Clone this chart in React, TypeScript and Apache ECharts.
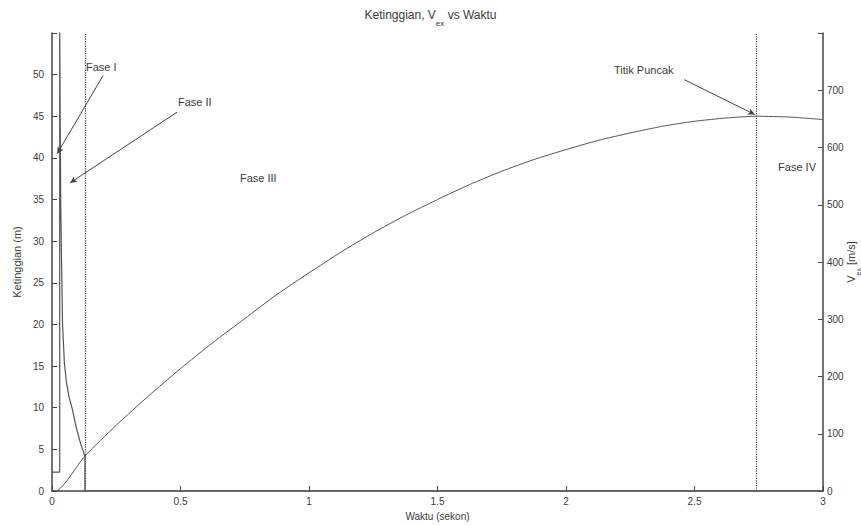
import React, { useEffect, useRef } from "react";
import * as echarts from "echarts";

// Height (Ketinggian, m) vs time (s) — left axis
const timeH = [0, 0.015, 0.128, 0.25, 0.375, 0.5, 0.625, 0.75, 0.875, 1.0, 1.125, 1.25, 1.375, 1.5, 1.625, 1.75, 1.875, 2.0, 2.125, 2.25, 2.375, 2.5, 2.625, 2.74, 2.875, 3.0];
const heightM = [0, 0, 4.2, 7.9, 11.4, 14.7, 17.8, 20.7, 23.6, 26.2, 28.7, 31.0, 33.1, 35.0, 36.8, 38.4, 39.8, 41.0, 42.1, 43.0, 43.8, 44.4, 44.8, 45.0, 44.9, 44.6];

// Exhaust velocity (V_ex, m/s) vs time (s) — right axis
const timeV = [0, 0.03, 0.03, 0.032, 0.034, 0.037, 0.041, 0.048, 0.056, 0.066, 0.078, 0.095, 0.11, 0.121, 0.128, 0.128, 3];
const vexMs = [33, 33, 820, 640, 500, 407, 291, 225, 190, 165, 145, 110, 85, 70, 60, 0, 0];

// Phase boundaries (dotted vertical lines)
const phaseBoundaries = [0.128, 2.74];

// Annotation arrows: [tailT, tailH, headT, headH] in left-axis units
const arrowFaseI = [0.199, 49.9, 0.02, 40.5];
const arrowFaseII = [0.487, 45.5, 0.07, 37.0];
const arrowPuncak = [2.46, 49.4, 2.735, 45.2];

const FONT = "'Liberation Sans', Arial, sans-serif";
const TXT = "#3c3c3c";
const LINE = "#555";

export default function App() {
  const ref = useRef<HTMLDivElement>(null);
  useEffect(() => {
    if (!ref.current) return;
    const chart = echarts.init(ref.current, undefined, { renderer: "svg" });
    const hData = timeH.map((t, i) => [t, heightM[i]]);
    const vData = timeV.map((t, i) => [t, vexMs[i]]);
    const arrow = (a: number[]) => [
      { coord: [a[0], a[1]] },
      { coord: [a[2], a[3]] },
    ];
    const axisLineStyle = { color: "#444", width: 1.5 };
    const labelStyle = { color: TXT, fontSize: 10, fontFamily: FONT };
    chart.setOption({
      animation: false,
      backgroundColor: "#ffffff",
      title: {
        text: "{a|Ketinggian, V}{b|ex}{a| vs Waktu}",
        left: "center",
        top: 4,
        textStyle: {
          fontWeight: "normal",
          rich: {
            a: { fontSize: 12, fontWeight: "normal", color: TXT, fontFamily: FONT, lineHeight: 14, verticalAlign: "top" },
            b: { fontSize: 8, fontWeight: "normal", color: TXT, fontFamily: FONT, lineHeight: 18, verticalAlign: "bottom" },
          },
        },
      },
      grid: { left: 52, right: 38, top: 33, bottom: 34, outerBoundsMode: "none", containLabel: false },
      xAxis: {
        type: "value",
        min: 0,
        max: 3,
        interval: 0.5,
        name: "Waktu (sekon)",
        nameLocation: "middle",
        nameGap: 20,
        nameMoveOverlap: false,
        nameTextStyle: { color: TXT, fontSize: 10, fontFamily: FONT },
        axisLine: { show: true, onZero: false, lineStyle: axisLineStyle },
        axisTick: { show: true, inside: true, length: 5, lineStyle: { color: "#444" } },
        axisLabel: { ...labelStyle, margin: 5 },
        splitLine: { show: false },
      },
      yAxis: [
        {
          type: "value",
          min: 0,
          max: 55,
          interval: 5,
          position: "left",
          name: "Ketinggian (m)",
          nameLocation: "middle",
          nameGap: 30,
          nameMoveOverlap: false,
          nameTextStyle: { color: TXT, fontSize: 11, fontFamily: FONT },
          axisLine: { show: true, lineStyle: axisLineStyle },
          axisTick: { show: true, inside: true, length: 5, lineStyle: { color: "#444" } },
          axisLabel: { ...labelStyle, margin: 8, formatter: (v: number) => (v === 55 ? "" : String(v)) },
          splitLine: { show: false },
        },
        {
          type: "value",
          min: 0,
          max: 800,
          interval: 100,
          position: "right",
          name: "{a|V}{b|ex}{a| [m/s]}",
          nameLocation: "middle",
          nameGap: 22,
          nameMoveOverlap: false,
          nameTextStyle: {
            rich: {
              a: { fontSize: 11, color: TXT, fontFamily: FONT, lineHeight: 13, verticalAlign: "top" },
              b: { fontSize: 7, color: TXT, fontFamily: FONT, lineHeight: 17, verticalAlign: "bottom" },
            },
          },
          axisLine: { show: true, lineStyle: axisLineStyle },
          axisTick: { show: true, inside: true, length: 5, lineStyle: { color: "#444" } },
          axisLabel: { ...labelStyle, margin: 4, formatter: (v: number) => (v === 800 ? "" : String(v)) },
          splitLine: { show: false },
        },
      ],
      series: [
        {
          name: "Ketinggian",
          type: "line",
          yAxisIndex: 0,
          data: hData,
          showSymbol: false,
          smooth: 0.2,
          lineStyle: { color: LINE, width: 1 },
          itemStyle: { color: LINE },
          markLine: {
            silent: true,
            symbol: ["none", "none"],
            label: { show: false },
            lineStyle: { color: "#444", type: "dotted", width: 1.2 },
            data: phaseBoundaries.map((t) => ({ xAxis: t })),
          },
        },
        {
          name: "Vex",
          type: "line",
          yAxisIndex: 1,
          data: vData,
          showSymbol: false,
          clip: true,
          lineStyle: { color: LINE, width: 1.2 },
          itemStyle: { color: LINE },
        },
        {
          name: "annotations",
          type: "line",
          yAxisIndex: 0,
          data: [],
          markLine: {
            silent: true,
            symbol: ["none", "arrow"],
            symbolSize: [5, 7],
            label: { show: false },
            lineStyle: { color: "#444", type: "solid", width: 1 },
            data: [arrow(arrowFaseI), arrow(arrowFaseII), arrow(arrowPuncak)],
          },
        },
      ],
      graphic: [
        { type: "text", left: 86, top: 61, style: { text: "Fase I", fill: TXT, fontSize: 11, fontFamily: FONT } },
        { type: "text", left: 178, top: 96, style: { text: "Fase II", fill: TXT, fontSize: 11, fontFamily: FONT } },
        { type: "text", left: 240, top: 172, style: { text: "Fase III", fill: TXT, fontSize: 11, fontFamily: FONT } },
        { type: "text", left: 614, top: 64, style: { text: "Titik Puncak", fill: TXT, fontSize: 11, fontFamily: FONT } },
        { type: "text", right: 45, top: 161, style: { text: "Fase IV", fill: TXT, fontSize: 11, fontFamily: FONT } },
      ],
    });
    return () => chart.dispose();
  }, []);
  return <div ref={ref} style={{ position: "fixed", left: 0, top: 0, width: 861, height: 525 }} />;
}
